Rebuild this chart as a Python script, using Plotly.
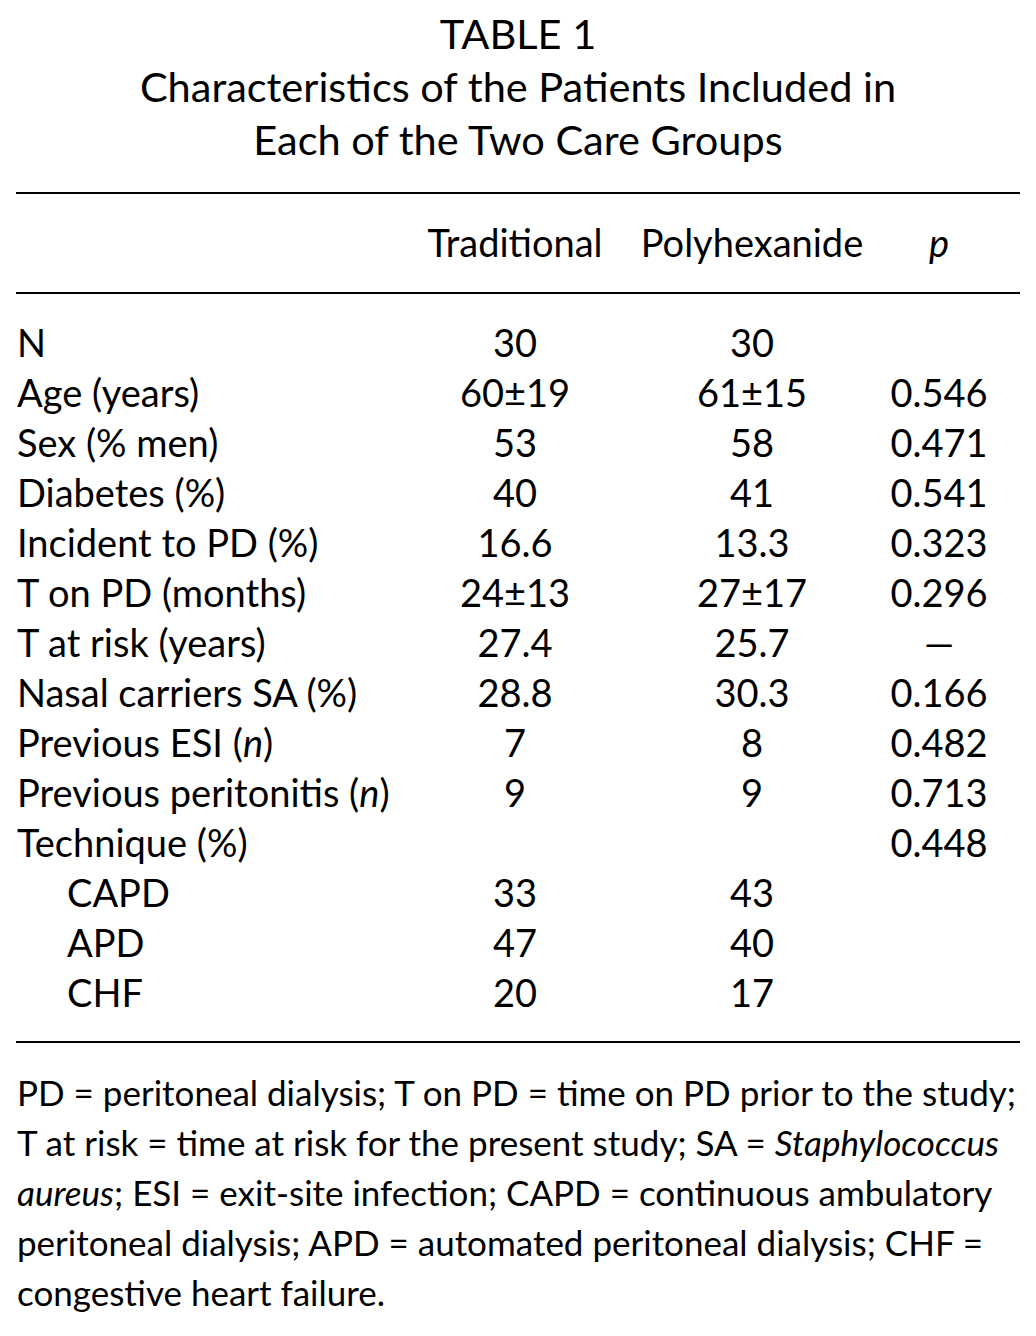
import plotly.graph_objects as go

# ---- data ----
title_lines = ["TABLE 1",
               "Characteristics of the Patients Included in",
               "Each of the Two Care Groups"]
col_headers = ["Traditional", "Polyhexanide", "<i>p</i>"]
row_labels = ["N", "Age (years)", "Sex (% men)", "Diabetes (%)",
              "Incident to PD (%)", "T on PD (months)", "T at risk (years)",
              "Nasal carriers SA (%)", "Previous ESI (<i>n</i>)",
              "Previous peritonitis (<i>n</i>)", "Technique (%)",
              "CAPD", "APD", "CHF"]
indented = [False] * 11 + [True, True, True]
traditional = ["30", "60±19", "53", "40", "16.6", "24±13", "27.4", "28.8",
               "7", "9", "", "33", "47", "20"]
polyhexanide = ["30", "61±15", "58", "41", "13.3", "27±17", "25.7", "30.3",
                "8", "9", "", "43", "40", "17"]
p_values = ["", "0.546", "0.471", "0.541", "0.323", "0.296", "—", "0.166",
            "0.482", "0.713", "0.448", "", "", ""]
footnote_lines = [
    "PD = peritoneal dialysis; T on PD = time on PD prior to the study;",
    "T at risk = time at risk for the present study; SA = <i>Staphylococcus</i>",
    "<i>aureus</i>; ESI = exit-site infection; CAPD = continuous ambulatory",
    "peritoneal dialysis; APD = automated peritoneal dialysis; CHF =",
    "congestive heart failure.",
]

# ---- layout constants ----
W, H = 1036, 1336
OFF = 8  # page body margin
FONT = "Lato, 'Liberation Sans', Arial, sans-serif"
BODY = 38
TITLE = 41.5
FOOT = 35
TDY = 4  # text baseline correction
x_left, x_indent = 17, 67
col_x = [515, 752, 939]
title_y0, title_dy = 35, 53
header_y = 243
row_y0, row_dy = 343, 50
foot_y0, foot_dy = 1093, 50
rules_y = [193, 293, 1042]
rule_x = (16, 1020)

fig = go.Figure()

# title
fig.add_trace(go.Scatter(
    x=[W / 2] * len(title_lines),
    y=[title_y0 + TDY + i * title_dy for i in range(len(title_lines))],
    text=title_lines, mode="text", textposition="middle center",
    textfont=dict(family=FONT, size=TITLE, color="black"),
    hoverinfo="skip", showlegend=False))

# column headers
fig.add_trace(go.Scatter(
    x=col_x, y=[header_y + TDY] * 3, text=col_headers, mode="text",
    textposition="middle center",
    textfont=dict(family=FONT, size=BODY, color="black"),
    hoverinfo="skip", showlegend=False))

rows_y = [row_y0 + TDY + i * row_dy for i in range(len(row_labels))]

# row labels
fig.add_trace(go.Scatter(
    x=[x_indent if ind else x_left for ind in indented], y=rows_y,
    text=row_labels, mode="text", textposition="middle right",
    textfont=dict(family=FONT, size=BODY, color="black"),
    hoverinfo="skip", showlegend=False))

# value columns
for cx, vals in zip(col_x, [traditional, polyhexanide, p_values]):
    fig.add_trace(go.Scatter(
        x=[cx] * len(vals), y=rows_y, text=vals, mode="text",
        textposition="middle center",
        textfont=dict(family=FONT, size=BODY, color="black"),
        hoverinfo="skip", showlegend=False))

# footnote
fig.add_trace(go.Scatter(
    x=[x_left] * len(footnote_lines),
    y=[foot_y0 + TDY + i * foot_dy for i in range(len(footnote_lines))],
    text=footnote_lines, mode="text", textposition="middle right",
    textfont=dict(family=FONT, size=FOOT, color="black"),
    hoverinfo="skip", showlegend=False))

# rules
for ry in rules_y:
    fig.add_shape(type="line", x0=rule_x[0], x1=rule_x[1], y0=ry, y1=ry,
                  xref="x", yref="y", line=dict(color="black", width=2))

fig.update_layout(
    width=W, height=H, margin=dict(l=0, r=0, t=0, b=0),
    paper_bgcolor="white", plot_bgcolor="white",
    xaxis=dict(range=[OFF, W + OFF], visible=False, fixedrange=True),
    yaxis=dict(range=[H + OFF, OFF], visible=False, fixedrange=True),
)

fig.write_html("out.html")
